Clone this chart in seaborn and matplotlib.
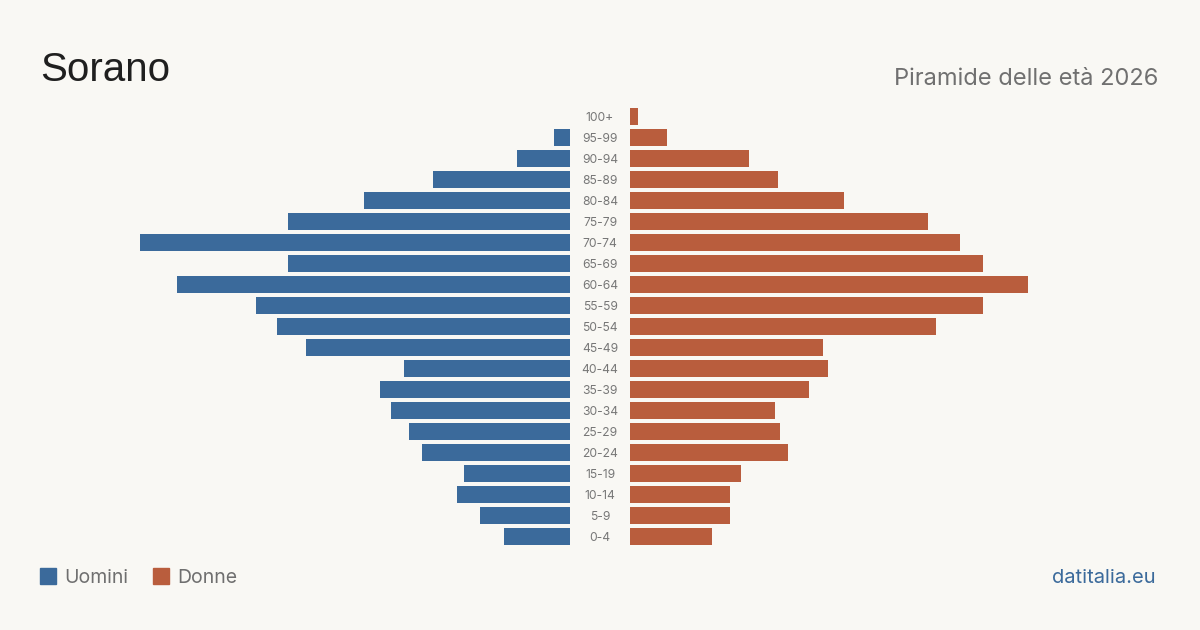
import matplotlib
matplotlib.use("Agg")
import matplotlib.pyplot as plt
from matplotlib.patches import Rectangle
import seaborn as sns
import pandas as pd

ages = ["100+", "95-99", "90-94", "85-89", "80-84", "75-79", "70-74", "65-69",
        "60-64", "55-59", "50-54", "45-49", "40-44", "35-39", "30-34", "25-29",
        "20-24", "15-19", "10-14", "5-9", "0-4"]
men = [0, 16, 53, 137, 206, 282, 430, 282, 393, 314, 293, 264, 166, 190, 179,
       161, 148, 106, 113, 90, 66]
women = [8, 37, 119, 148, 214, 298, 330, 353, 398, 353, 306, 193, 198, 179, 145,
         150, 158, 111, 100, 100, 82]

BG = "#f9f8f4"
BLUE = "#3b6a9b"
RED = "#b95d3d"

sns.set_theme(style="white")
plt.rcParams["font.family"] = ["Inter", "DejaVu Sans"]

df = pd.DataFrame({"age": ages, "men": men, "women": women})

W, H = 1200, 630
fig = plt.figure(figsize=(12, 6.3), dpi=100, facecolor=BG)

XMAX = 440
top_px, bot_px = 106.3, 547.3
b = 1 - bot_px / H
h = (bot_px - top_px) / H
axL = fig.add_axes([(570 - XMAX) / W, b, XMAX / W, h])
axR = fig.add_axes([630 / W, b, XMAX / W, h])

sns.barplot(data=df, y="age", x="men", ax=axL, color=BLUE, orient="h",
            width=0.8, saturation=1, order=ages, linewidth=0, edgecolor="none")
sns.barplot(data=df, y="age", x="women", ax=axR, color=RED, orient="h",
            width=0.8, saturation=1, order=ages, linewidth=0, edgecolor="none")

axL.set_xlim(XMAX, 0)
axR.set_xlim(0, XMAX)
for ax in (axL, axR):
    ax.set_facecolor("none")
    ax.set_ylim(len(ages) - 0.5, -0.5)
    ax.set_xlabel("")
    ax.set_ylabel("")
    ax.set_xticks([])
    ax.set_yticks([])
    for s in ax.spines.values():
        s.set_visible(False)

for i, a in enumerate(ages):
    axR.text(-30, i, a, ha="center", va="center_baseline", fontsize=8.7,
             color="#777777", transform=axR.transData)

fig.text(40 / W, 1 - 81 / H, "Sorano", fontsize=29, color="#1f1f1f",
         family=["Liberation Sans", "DejaVu Sans"], ha="left", va="baseline")
fig.text(1158 / W, 1 - 85 / H, "Piramide delle età 2026", fontsize=17,
         color="#707070", ha="right", va="baseline")

# legend
fig.patches.append(Rectangle((40 / W, 1 - 584 / H), 16 / W, 16 / H,
                             transform=fig.transFigure, color=BLUE))
fig.text(64 / W, 1 - 583 / H, "Uomini", fontsize=14, color="#6f6f6f",
         ha="left", va="baseline")
fig.patches.append(Rectangle((153 / W, 1 - 584 / H), 16 / W, 16 / H,
                             transform=fig.transFigure, color=RED))
fig.text(177 / W, 1 - 583 / H, "Donne", fontsize=14, color="#6f6f6f",
         ha="left", va="baseline")

fig.text(1156 / W, 1 - 583 / H, "datitalia.eu", fontsize=14.5, color=BLUE,
         ha="right", va="baseline")

fig.savefig("out.png", dpi=100, facecolor=BG)
